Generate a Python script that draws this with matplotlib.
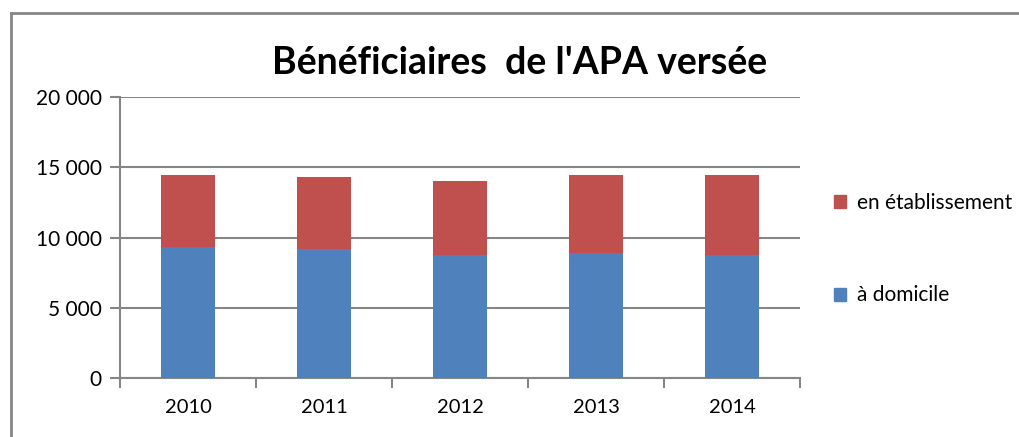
import matplotlib.pyplot as plt
from matplotlib.lines import Line2D
from matplotlib.patches import Patch
from matplotlib.ticker import FuncFormatter, MultipleLocator

YEARS = ["2010", "2011", "2012", "2013", "2014"]
DOMICILE = [9300, 9190, 8770, 8930, 8770]
ETABLISSEMENT = [5150, 5150, 5280, 5520, 5680]

BLUE = "#4F81BD"
RED = "#C0504D"
GRID = "#868686"

plt.rcParams["font.family"] = ["Lato", "DejaVu Sans"]

fig = plt.figure(figsize=(10.2, 4.37), dpi=100)
ax = fig.add_axes([120 / 1020, 59 / 437, 680 / 1020, 281 / 437])

x = range(len(YEARS))
ax.bar(x, DOMICILE, width=0.4, color=BLUE, zorder=3)
ax.bar(x, ETABLISSEMENT, width=0.4, bottom=DOMICILE, color=RED, zorder=3)

ax.set_xlim(-0.5, len(YEARS) - 0.5)
ax.set_ylim(0, 20000)
ax.yaxis.set_major_locator(MultipleLocator(5000))
ax.yaxis.set_major_formatter(FuncFormatter(lambda v, _: f"{int(v):,}".replace(",", " ")))
ax.set_xticks(list(x))
ax.set_xticklabels(YEARS)
ax.set_xticks([i - 0.5 for i in range(len(YEARS) + 1)], minor=True)
ax.tick_params(axis="x", which="major", length=0, pad=15, labelsize=14.5)
ax.tick_params(axis="x", which="minor", length=7, color=GRID, width=1.5)
ax.tick_params(axis="y", length=7, color=GRID, width=1.5, pad=6, labelsize=15)

ax.grid(axis="y", color=GRID, linewidth=1.5, zorder=0)
for side in ("top", "right"):
    ax.spines[side].set_visible(False)
for side in ("left", "bottom"):
    ax.spines[side].set_color(GRID)
    ax.spines[side].set_linewidth(1.5)

fig.text(520 / 1020, 1 - 63 / 437, "Bénéficiaires  de l'APA versée",
         ha="center", va="center", fontsize=27, fontweight="bold")

handles = [Patch(color=RED), Patch(color=BLUE)]
fig.legend(handles, ["en établissement", "à domicile"], loc="center left",
           bbox_to_anchor=(815 / 1020, 1 - 249 / 437), frameon=False,
           fontsize=15, labelspacing=3.5, handlelength=0.6, handleheight=0.6,
           handletextpad=0.5)

# frame around the chart (only top and left edges visible)
fig.add_artist(Line2D([11 / 1020, 11 / 1020], [0, 1 - 13 / 437], transform=fig.transFigure,
                      color=GRID, linewidth=2))
fig.add_artist(Line2D([11 / 1020, 1], [1 - 13 / 437, 1 - 13 / 437], transform=fig.transFigure,
                      color=GRID, linewidth=2))

fig.savefig("out.png", dpi=100)
